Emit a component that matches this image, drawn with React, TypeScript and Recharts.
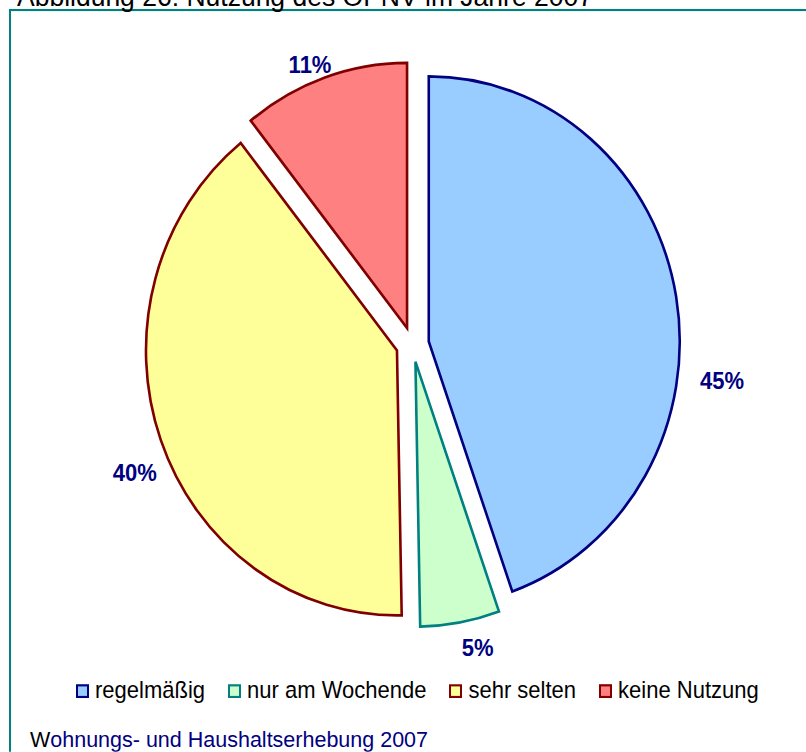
import React from 'react';
import { PieChart, Pie, Cell, Legend, Sector } from 'recharts';

// ---- data ----
const categories = ['regelmäßig', 'nur am Wochende', 'sehr selten', 'keine Nutzung'];
const shares = [44.6, 5.1, 39.6, 10.7];
const shareLabels = ['45%', '5%', '40%', '11%'];

// ---- styles ----
const fills = ['#99CCFF', '#CCFFCC', '#FFFF99', '#FF8080'];
const strokes = ['#000080', '#008080', '#800000', '#800000'];

const data = categories.map((name, i) => ({ name, value: shares[i] }));

const SY = 1.056; // the reference is stretched vertically
const W = 806;
const H = 712;
const CX = 412.5;
const CY = 326.2;
const R = 251;
const EXPLODE = 16.5;
const LABEL_ANGLE_NUDGE = [-16.1, 2.5, 4.0, 1.9];
const LABEL_RADIUS = [1.241, 1.174, 1.209, 1.131];
const RAD = Math.PI / 180;
const FONT = '"Liberation Sans", Arial, Helvetica, sans-serif';

const ExplodedSector = (props: any) => {
  const { cx, cy, midAngle, innerRadius, outerRadius, startAngle, endAngle, fill, stroke, strokeWidth } = props;
  const dx = EXPLODE * Math.cos(-midAngle * RAD);
  const dy = EXPLODE * Math.sin(-midAngle * RAD);
  return (
    <Sector
      cx={cx + dx}
      cy={cy + dy}
      innerRadius={innerRadius}
      outerRadius={outerRadius}
      startAngle={startAngle}
      endAngle={endAngle}
      fill={fill}
      stroke={stroke}
      strokeWidth={strokeWidth}
    />
  );
};

const renderLabel = (p: any) => {
  const i = p.index;
  const a = (p.midAngle + LABEL_ANGLE_NUDGE[i]) * RAD;
  const r = p.outerRadius * LABEL_RADIUS[i];
  const x = p.cx + r * Math.cos(a);
  const y = p.cy - r * Math.sin(a);
  return (
    <text
      key={`lbl-${i}`}
      x={x}
      y={y}
      textAnchor="middle"
      dominantBaseline="central"
      fill="#000080"
      fontWeight="bold"
      fontSize={22}
      fontFamily={FONT}
    >
      {shareLabels[i]}
    </text>
  );
};

const LegendContent = () => (
  <div
    style={{
      display: 'flex',
      alignItems: 'center',
      whiteSpace: 'nowrap',
      fontFamily: FONT,
      fontSize: 22,
      color: '#000',
      lineHeight: '24px',
    }}
  >
    {categories.map((c, i) => (
      <span key={c} style={{ display: 'inline-flex', alignItems: 'center', marginRight: i < categories.length - 1 ? 23 : 0 }}>
        <span
          style={{
            display: 'inline-block',
            width: 9,
            height: 9,
            border: `2px solid ${strokes[i]}`,
            background: fills[i],
            marginRight: 6,
          }}
        />
        {c}
      </span>
    ))}
  </div>
);

export default function App() {
  return (
    <div style={{ position: 'absolute', left: 0, top: 0, width: W, height: 752, overflow: 'hidden', background: '#fff' }}>
      <div
        style={{
          position: 'absolute',
          left: 0,
          top: 0,
          width: W,
          height: H,
          transform: `scale(1, ${SY})`,
          transformOrigin: '0 0',
        }}
      >
        <svg width={W} height={H} style={{ position: 'absolute', left: 0, top: 0, overflow: 'hidden' }}>
          <rect x={10} y={9.5} width={1000} height={1000} fill="none" stroke="#008080" strokeWidth={2} />
          <text x={17} y={5.7} fontSize={26.5} fontFamily={FONT} fill="#000">
            Abbildung 26: Nutzung des ÖPNV im Jahre 2007
          </text>
          <text x={30} y={707.4} fontSize={21.5} fontFamily={FONT} fill="#000080">
            <tspan fill="#000">W</tspan>ohnungs- und Haushaltserhebung 2007
          </text>
        </svg>
        <div style={{ position: 'absolute', left: 0, top: 0 }}>
          <PieChart width={W} height={H} margin={{ top: 0, right: 0, bottom: 0, left: 0 }}>
            <Pie
              data={data}
              dataKey="value"
              nameKey="name"
              cx={CX}
              cy={CY}
              outerRadius={R}
              startAngle={90}
              endAngle={-270}
              isAnimationActive={false}
              labelLine={false}
              label={renderLabel}
              shape={ExplodedSector}
              strokeWidth={2.6}
            >
              {data.map((d, i) => (
                <Cell key={d.name} fill={fills[i]} stroke={strokes[i]} />
              ))}
            </Pie>
            <Legend
              verticalAlign="bottom"
              content={LegendContent}
              wrapperStyle={{ position: 'absolute', left: 76, top: 642, width: 720, height: 24, margin: 0, bottom: 'auto' }}
            />
          </PieChart>
        </div>
      </div>
    </div>
  );
}
